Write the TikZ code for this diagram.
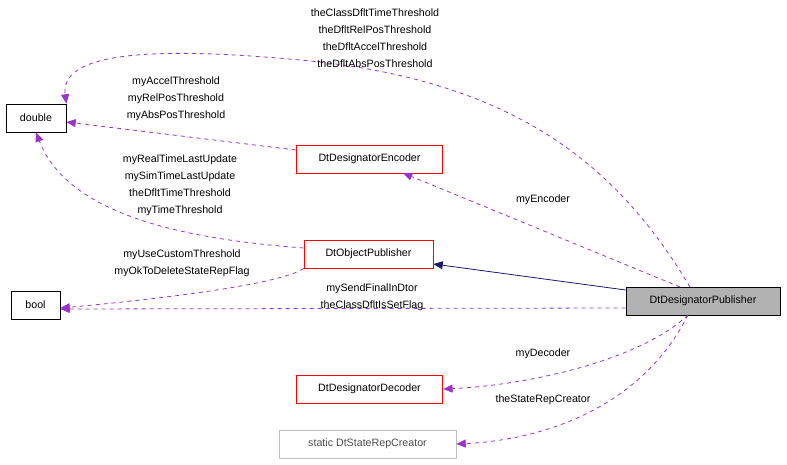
\documentclass[tikz,border=0pt]{standalone}
\usepackage{fontspec}
\setmainfont{Liberation Sans}
\usetikzlibrary{arrows.meta}
\definecolor{purp}{HTML}{9A32CD}
\definecolor{navy}{HTML}{191970}
\begin{document}
\begin{tikzpicture}[x=0.75pt,y=-0.75pt,
  box/.style={draw,line width=0.6pt,minimum height=21pt,inner xsep=3pt,font=\fontsize{8}{9}\selectfont,anchor=center},
  dep/.style={draw=purp,dashed,line width=0.6pt,-{Triangle[length=7pt,width=6pt]},shorten >=0pt},
  inh/.style={draw=navy,line width=0.6pt,-{Triangle[length=7pt,width=6pt]}},
  lab/.style={font=\fontsize{8}{12.75}\selectfont,align=center,inner sep=0pt}]
\useasboundingbox (0,0) rectangle (787,464);
\node[box,minimum width=45pt] (dbl) at (36,118) {double};
\node[box,minimum width=36.75pt] (bool) at (35.5,305) {bool};
\node[box,draw=red,minimum width=110pt] (enc) at (369.5,159) {DtDesignatorEncoder};
\node[box,draw=red,minimum width=96.75pt] (obj) at (368.5,254) {DtObjectPublisher};
\node[box,fill=gray!60,minimum width=115.5pt] (pub) at (703,301) {DtDesignatorPublisher};
\node[box,draw=red,minimum width=110pt] (dec) at (369.5,389) {DtDesignatorDecoder};
\node[box,draw=gray!50,text=gray!60!black,minimum width=132.75pt] (src) at (367.5,444) {static DtStateRepCreator};
\coordinate (p1) at (690,287);
\coordinate (p2) at (680,287);
\coordinate (p3) at (688,315);
\draw[inh] (pub.west|-0,290) -- (obj.east|-0,264);
\draw[dep] (p1) .. controls (620,170) and (520,80) .. (300,60) .. controls (140,45) and (60,55) .. (dbl.north east);
\draw[dep] (enc.west|-0,150) -- (dbl.east|-0,122);
\draw[dep] (obj.west|-0,248) .. controls (200,240) and (70,220) .. (dbl.south);
\draw[dep] (obj.south west) .. controls (280,285) and (150,300) .. (bool.east|-0,308);
\draw[dep] (pub.west|-0,308) -- (bool.east|-0,309);
\draw[dep] (p2) -- (403,173);
\draw[dep] (p3) .. controls (640,360) and (530,385) .. (dec.east);
\draw[dep] (p3) .. controls (640,410) and (540,440) .. (src.east);
\node[lab] (l1) at (375,38) {theClassDfltTimeThreshold\\theDfltRelPosThreshold\\theDfltAccelThreshold\\theDfltAbsPosThreshold};
\node[lab] (l2) at (176,99) {myAccelThreshold\\myRelPosThreshold\\myAbsPosThreshold};
\node[lab] (l3) at (180,185) {myRealTimeLastUpdate\\mySimTimeLastUpdate\\theDfltTimeThreshold\\myTimeThreshold};
\node[lab] (l4) at (182,263) {myUseCustomThreshold\\myOkToDeleteStateRepFlag};
\node[lab] (l5) at (372,297) {mySendFinalInDtor\\theClassDfltIsSetFlag};
\node[lab] (l6) at (543,200) {myEncoder};
\node[lab] (l7) at (543,354) {myDecoder};
\node[lab] (l8) at (543,400) {theStateRepCreator};
\end{tikzpicture}
\end{document}
